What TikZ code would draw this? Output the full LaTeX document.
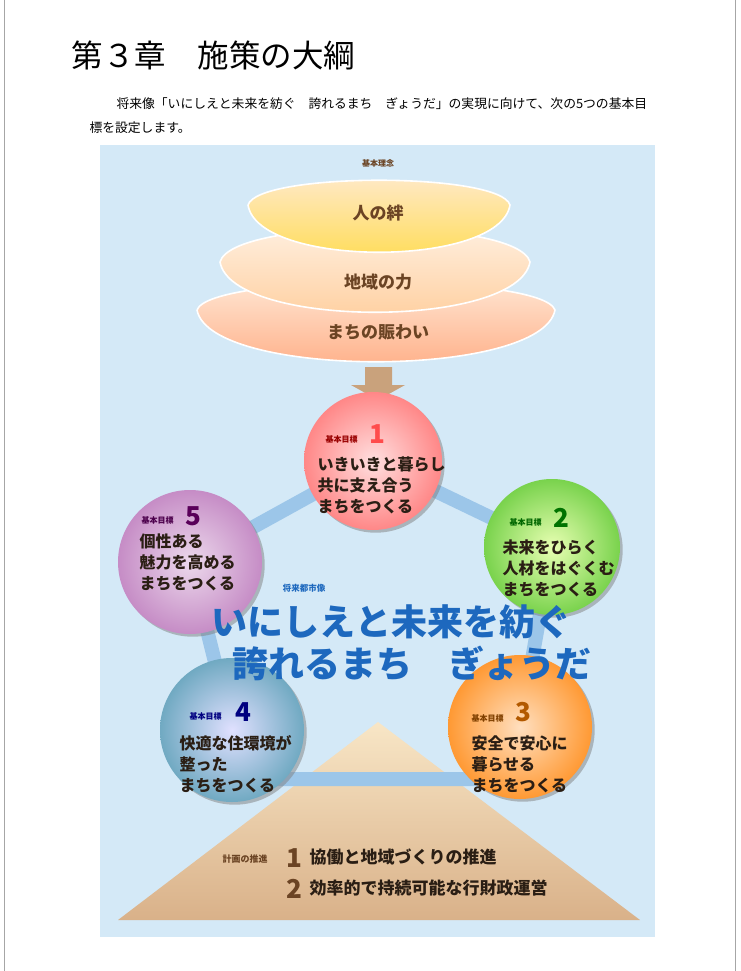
\documentclass[tikz,border=0pt]{standalone}
\usepackage{fontspec}
\setmainfont{Noto Sans CJK JP}
\usetikzlibrary{shadows}
\definecolor{panel}{HTML}{D4E9F7}
\definecolor{band}{HTML}{9CC6E9}
\definecolor{txt}{HTML}{2A1E14}
\definecolor{brownA}{HTML}{6B4424}
\definecolor{cityblue}{HTML}{1D68BE}
\definecolor{arrowc}{HTML}{C9A27C}
\definecolor{pyrtop}{HTML}{F8E6C6}
\definecolor{pyrbot}{HTML}{D9B189}
\tikzset{
  lens/.style={draw=white,line width=1.6pt},
  ttl/.style={font=\fontsize{17}{17}\selectfont\bfseries,text=brownA},
  circ/.style={draw=none},
  goallbl/.style={font=\fontsize{8}{8}\selectfont\bfseries,anchor=west},
  goalnum/.style={font=\fontsize{26}{26}\selectfont\bfseries,anchor=west},
  goaltxt/.style={font=\fontsize{16}{21}\selectfont\bfseries,text=txt,align=left,anchor=north west},
  bandline/.style={band,line width=14pt},
  city/.style={font=\fontsize{36}{36}\selectfont\bfseries,text=cityblue},
  promo/.style={font=\fontsize{17}{17}\selectfont\bfseries,text=txt,anchor=west},
  promonum/.style={font=\fontsize{26}{26}\selectfont\bfseries,text=brownA,anchor=center}
}
\begin{document}
\begin{tikzpicture}[x=1pt,y=-1pt]
\useasboundingbox (0,0) rectangle (740,971);
\fill[white] (0,0) rectangle (740,971);
\draw[gray!70,line width=0.8pt] (4,0)--(4,971) (735,0)--(735,971);
\node[anchor=west,font=\fontsize{31.5}{31.5}\selectfont] (title) at (68,55) {第３章　施策の大綱};
\node[anchor=west,font=\fontsize{12.8}{12.8}\selectfont] (p1) at (113,104) {将来像「いにしえと未来を紡ぐ　誇れるまち　ぎょうだ」の実現に向けて、次の5つの基本目};
\node[anchor=west,font=\fontsize{12.8}{12.8}\selectfont] (p2) at (86,128) {標を設定します。};
\fill[panel] (100,145) rectangle (655,937);
\node[font=\fontsize{8}{8}\selectfont\bfseries,text=brownA] (kr) at (378,163) {基本理念};
% lenses
\shade[lens,top color=red!8!orange!15!white,bottom color=red!35!orange!50!white] (197,310) .. controls (210,273) and (542,273) .. (555,310) .. controls (542,379) and (210,379) .. (197,310);
\shade[lens,top color=orange!10!white,bottom color=orange!40!white] (220,262) .. controls (232,217) and (518,217) .. (530,262) .. controls (518,329) and (232,329) .. (220,262);
\shade[lens,top color=yellow!15!orange!20!white,bottom color=yellow!60!orange!70!white] (248,205) .. controls (258,172) and (500,172) .. (510,205) .. controls (500,268) and (258,268) .. (248,205);
\node[ttl] (l1) at (378,213) {人の絆};
\node[ttl] (l2) at (378,282) {地域の力};
\node[ttl] (l3) at (378,332) {まちの賑わい};
% arrow
\fill[arrowc] (365,367) -- (392,367) -- (392,385) -- (405,385) -- (378,400) -- (351,385) -- (365,385) -- cycle;
% pyramid
\shade[top color=pyrtop,bottom color=pyrbot] (378,722) -- (640,920) -- (118,920) -- cycle;
% pentagon
\coordinate (c1) at (373,461);
\coordinate (c2) at (552,547);
\coordinate (c3) at (520,727);
\coordinate (c4) at (232,730);
\coordinate (c5) at (190,562);
\draw[bandline] (c1)--(c2)--(c3) (c3) ++(0,52) -- ++(-290,0);
\draw[bandline] (c4)--(c5)--(c1);
\shade[circ,inner color=pink!50!white,outer color=red!45!pink!80!white,drop shadow] (c1) circle (69);
\shade[circ,inner color=green!30!yellow!30!white,outer color=green!50!olive!70!white,drop shadow] (c2) circle (68);
\shade[circ,inner color=orange!25!white,outer color=orange!80!white,drop shadow] (c3) circle (72);
\shade[circ,inner color=blue!12!white,outer color=blue!30!cyan!40!gray!80!white,drop shadow] (c4) circle (72);
\shade[circ,inner color=violet!15!white,outer color=violet!45!white,drop shadow] (c5) circle (72);
% goals
\node[goallbl,text=red!60!black] (g1l) at (322,439) {基本目標};
\node[goalnum,text=red!60!pink] (g1n) at (366,434) {1};
\node[goaltxt] (g1t) at (314,453) {いきいきと暮らし\\共に支え合う\\まちをつくる};
\node[goallbl,text=green!40!black] (g2l) at (506,522) {基本目標};
\node[goalnum,text=green!45!black] (g2n) at (550,518) {2};
\node[goaltxt] (g2t) at (499,536) {未来をひらく\\人材をはぐくむ\\まちをつくる};
\node[goallbl,text=orange!50!black] (g3l) at (468,718) {基本目標};
\node[goalnum,text=orange!70!black] (g3n) at (512,712) {3};
\node[goaltxt] (g3t) at (468,732) {安全で安心に\\暮らせる\\まちをつくる};
\node[goallbl,text=blue!50!black] (g4l) at (186,716) {基本目標};
\node[goalnum,text=blue!50!black] (g4n) at (232,712) {4};
\node[goaltxt] (g4t) at (176,732) {快適な住環境が\\整った\\まちをつくる};
\node[goallbl,text=violet!60!black] (g5l) at (138,520) {基本目標};
\node[goalnum,text=violet!70!black] (g5n) at (182,516) {5};
\node[goaltxt] (g5t) at (136,530) {個性ある\\魅力を高める\\まちをつくる};
% city image
\node[font=\fontsize{8.5}{8.5}\selectfont\bfseries,text=cityblue] (ct) at (304,588) {将来都市像};
\node[city] (cy1) at (391,622) {いにしえと未来を紡ぐ};
\node[city] (cy2) at (412,663) {誇れるまち　ぎょうだ};
% promotion
\node[font=\fontsize{9}{9}\selectfont\bfseries,text=brownA] (pl) at (245,859) {計画の推進};
\node[promonum] (pn1) at (294,858) {1};
\node[promo] (pt1) at (306,857) {協働と地域づくりの推進};
\node[promonum] (pn2) at (294,889) {2};
\node[promo] (pt2) at (306,888) {効率的で持続可能な行財政運営};
\end{tikzpicture}
\end{document}
